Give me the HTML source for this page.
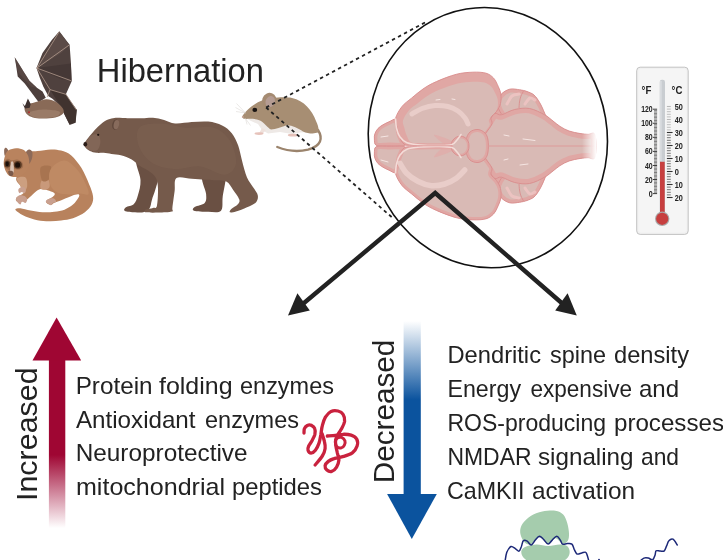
<!DOCTYPE html>
<html>
<head>
<meta charset="utf-8">
<title>Hibernation</title>
<style>
html,body{margin:0;padding:0;background:#fff;}
body{width:723px;height:560px;overflow:hidden;font-family:"Liberation Sans",sans-serif;}
svg{display:block;position:absolute;left:0;top:0;}
text{font-family:"Liberation Sans",sans-serif;fill:#222;}
text{filter:grayscale(1);}
</style>
</head>
<body>
<svg width="723" height="560" viewBox="0 0 723 560">
<defs>
  <linearGradient id="gRed" x1="0" y1="0" x2="0" y2="1">
    <stop offset="0" stop-color="#9f0633"/>
    <stop offset="0.57" stop-color="#9f0633"/>
    <stop offset="1" stop-color="#9f0633" stop-opacity="0"/>
  </linearGradient>
  <linearGradient id="gBlue" x1="0" y1="0" x2="0" y2="1">
    <stop offset="0" stop-color="#0b539e" stop-opacity="0"/>
    <stop offset="0.45" stop-color="#0b539e"/>
    <stop offset="1" stop-color="#0b539e"/>
  </linearGradient>
  <linearGradient id="gStem" x1="0" y1="0" x2="1" y2="0">
    <stop offset="0" stop-color="#fff" stop-opacity="0"/>
    <stop offset="1" stop-color="#fff" stop-opacity="1"/>
  </linearGradient>
<clipPath id="bc1"><path d="M497.0 104.0 C496.3 100.2 498.9 97.0 501.0 94.5 C503.1 92.0 506.6 90.0 509.7 89.2 C512.8 88.4 516.8 89.4 519.7 89.8 C522.6 90.2 524.6 90.6 527.0 91.5 C529.4 92.4 531.9 93.2 534.0 95.0 C536.1 96.8 537.8 99.5 539.6 102.5 C541.4 105.5 543.5 110.3 544.6 113.1 C545.7 115.8 547.6 118.5 546.0 119.0 C544.4 119.5 539.3 117.0 535.0 116.0 C530.7 115.0 525.0 112.8 520.0 113.0 C515.0 113.2 508.8 118.5 505.0 117.0 C501.2 115.5 497.7 107.8 497.0 104.0 Z"/></clipPath>
<clipPath id="bc2"><path d="M497.0 188.0 C496.3 191.8 498.9 195.0 501.0 197.5 C503.1 200.0 506.6 202.0 509.7 202.8 C512.8 203.6 516.8 202.6 519.7 202.2 C522.6 201.8 524.6 201.4 527.0 200.5 C529.4 199.6 531.9 198.8 534.0 197.0 C536.1 195.2 537.8 192.5 539.6 189.5 C541.4 186.5 543.5 181.7 544.6 178.9 C545.7 176.2 547.6 173.5 546.0 173.0 C544.4 172.5 539.3 175.0 535.0 176.0 C530.7 177.0 525.0 179.2 520.0 179.0 C515.0 178.8 508.8 173.5 505.0 175.0 C501.2 176.5 497.7 184.2 497.0 188.0 Z"/></clipPath>
<clipPath id="bc3"><path d="M489.0 121.0 C491.1 117.9 492.7 114.5 494.8 113.5 C496.9 112.5 498.1 115.5 501.4 114.8 C504.7 114.1 510.0 110.5 514.7 109.5 C519.4 108.5 524.6 107.6 529.6 108.5 C534.6 109.4 540.7 112.7 544.6 114.8 C548.5 116.9 550.4 119.1 553.0 121.0 C555.6 122.9 557.3 124.7 560.0 126.4 C562.7 128.1 565.7 129.8 569.0 131.0 C572.3 132.2 576.8 132.9 580.0 133.5 C583.2 134.1 585.5 134.1 588.0 134.3 C590.5 134.5 593.8 131.0 595.0 134.8 C596.2 138.6 596.2 153.4 595.0 157.2 C593.8 161.0 590.5 157.5 588.0 157.7 C585.5 157.9 583.2 157.9 580.0 158.5 C576.8 159.1 572.3 159.8 569.0 161.0 C565.7 162.2 562.7 163.9 560.0 165.6 C557.3 167.3 555.6 169.1 553.0 171.0 C550.4 172.9 548.5 175.1 544.6 177.2 C540.7 179.3 534.6 182.6 529.6 183.5 C524.6 184.4 519.4 183.6 514.7 182.5 C510.0 181.4 504.7 177.9 501.4 177.2 C498.1 176.5 496.9 179.5 494.8 178.5 C492.7 177.5 491.1 174.1 489.0 171.0 C486.9 167.9 483.8 164.2 482.0 160.0 C480.2 155.8 478.0 150.7 478.0 146.0 C478.0 141.3 480.2 136.2 482.0 132.0 C483.8 127.8 486.9 124.1 489.0 121.0 Z"/></clipPath>
<clipPath id="bc4"><path d="M374.4 139.0 C374.1 137.0 374.4 135.2 375.0 133.5 C375.6 131.8 376.7 129.9 378.0 128.5 C379.3 127.0 381.2 125.9 383.0 124.8 C384.8 123.7 386.9 122.7 389.0 121.8 C391.1 120.9 394.0 118.7 395.5 119.2 C397.0 119.7 397.3 122.5 398.0 125.0 C398.7 127.5 398.8 131.2 399.5 134.0 C400.2 136.8 401.8 139.6 402.5 141.5 C403.2 143.4 406.1 144.9 404.0 145.6 C401.9 146.3 394.6 145.6 390.0 145.6 C385.4 145.6 379.1 146.5 376.5 145.4 C373.9 144.3 374.6 141.0 374.4 139.0 Z"/></clipPath>
<clipPath id="bc5"><path d="M374.4 153.0 C374.1 155.0 374.4 156.8 375.0 158.5 C375.6 160.2 376.7 162.1 378.0 163.5 C379.3 164.9 381.2 166.1 383.0 167.2 C384.8 168.3 386.9 169.3 389.0 170.2 C391.1 171.1 394.0 173.3 395.5 172.8 C397.0 172.3 397.3 169.5 398.0 167.0 C398.7 164.5 398.8 160.8 399.5 158.0 C400.2 155.2 401.8 152.4 402.5 150.5 C403.2 148.6 406.1 147.1 404.0 146.4 C401.9 145.7 394.6 146.4 390.0 146.4 C385.4 146.4 379.1 145.5 376.5 146.6 C373.9 147.7 374.6 151.0 374.4 153.0 Z"/></clipPath>
<clipPath id="bc6"><path d="M395.5 118.5 C396.3 115.1 399.3 109.9 402.0 106.5 C404.7 103.1 408.0 101.1 411.5 98.2 C415.0 95.3 418.9 91.8 423.0 89.0 C427.1 86.2 430.8 84.0 436.4 81.6 C441.9 79.1 450.2 75.9 456.3 74.3 C462.4 72.7 467.9 72.4 472.9 72.2 C477.8 72.0 482.6 72.2 486.0 73.2 C489.4 74.2 491.4 75.8 493.5 78.0 C495.6 80.2 497.1 83.9 498.3 86.6 C499.5 89.3 500.4 91.2 500.8 94.0 C501.2 96.8 501.2 100.6 500.5 103.5 C499.8 106.4 498.1 109.2 496.5 111.5 C494.9 113.8 491.8 115.5 491.0 117.5 C490.2 119.5 492.5 121.4 492.0 123.5 C491.5 125.6 489.5 127.9 488.0 130.0 C486.5 132.1 485.0 134.2 483.0 136.0 C481.0 137.8 478.5 139.5 476.0 141.0 C473.5 142.5 474.0 144.2 468.0 145.0 C462.0 145.8 448.8 145.4 440.0 145.5 C431.2 145.6 421.0 145.6 415.0 145.3 C409.0 145.1 406.6 145.6 404.0 144.0 C401.4 142.4 400.7 138.8 399.5 136.0 C398.3 133.2 397.7 129.9 397.0 127.0 C396.3 124.1 394.7 121.9 395.5 118.5 Z"/></clipPath>
<clipPath id="bc7"><path d="M395.5 173.5 C396.3 176.9 399.3 182.1 402.0 185.5 C404.7 188.9 408.0 190.9 411.5 193.8 C415.0 196.7 418.9 200.2 423.0 203.0 C427.1 205.8 430.8 208.0 436.4 210.4 C441.9 212.8 450.2 216.1 456.3 217.7 C462.4 219.3 467.9 219.6 472.9 219.8 C477.8 220.0 482.6 219.8 486.0 218.8 C489.4 217.8 491.4 216.2 493.5 214.0 C495.6 211.8 497.1 208.1 498.3 205.4 C499.5 202.7 500.4 200.8 500.8 198.0 C501.2 195.2 501.2 191.4 500.5 188.5 C499.8 185.6 498.1 182.8 496.5 180.5 C494.9 178.2 491.8 176.5 491.0 174.5 C490.2 172.5 492.5 170.6 492.0 168.5 C491.5 166.4 489.5 164.1 488.0 162.0 C486.5 159.9 485.0 157.8 483.0 156.0 C481.0 154.2 478.5 152.5 476.0 151.0 C473.5 149.5 474.0 147.8 468.0 147.0 C462.0 146.2 448.8 146.6 440.0 146.5 C431.2 146.4 421.0 146.4 415.0 146.7 C409.0 146.9 406.6 146.4 404.0 148.0 C401.4 149.6 400.7 153.2 399.5 156.0 C398.3 158.8 397.7 162.1 397.0 165.0 C396.3 167.9 394.7 170.1 395.5 173.5 Z"/></clipPath>
<clipPath id="bc8"><path d="M470.0 132.0 C472.0 130.2 475.5 129.3 478.0 129.5 C480.5 129.7 483.3 131.2 485.0 133.0 C486.7 134.8 487.5 136.8 488.0 140.0 C488.5 143.2 488.5 148.8 488.0 152.0 C487.5 155.2 486.7 157.2 485.0 159.0 C483.3 160.8 480.5 162.3 478.0 162.5 C475.5 162.7 472.0 161.8 470.0 160.0 C468.0 158.2 466.7 155.3 466.0 152.0 C465.3 148.7 465.3 143.3 466.0 140.0 C466.7 136.7 468.0 133.8 470.0 132.0 Z"/></clipPath>
<clipPath id="bc9"><path d="M453.0 140.0 C454.2 138.4 456.2 137.0 458.0 136.5 C459.8 136.0 462.3 136.2 464.0 137.0 C465.7 137.8 467.2 139.5 468.0 141.0 C468.8 142.5 469.0 144.3 469.0 146.0 C469.0 147.7 468.8 149.5 468.0 151.0 C467.2 152.5 465.7 154.2 464.0 155.0 C462.3 155.8 459.8 156.0 458.0 155.5 C456.2 155.0 454.2 153.6 453.0 152.0 C451.8 150.4 451.0 148.0 451.0 146.0 C451.0 144.0 451.8 141.6 453.0 140.0 Z"/></clipPath>

</defs>

<!-- ===== TITLE ===== -->
<text id="t-title" x="96.8" y="82.3" font-size="33" textLength="167.2" lengthAdjust="spacingAndGlyphs">Hibernation</text>

<!-- ===== BAT ===== -->
<g id="bat">
<path d="M14.7 57.2 L19.1 64.3 L23.7 71.8 L29.4 80.8 L36.9 87.8 L42.5 91.5 L45.8 97.7 L38.7 102.2 L33.1 94.7 L24.7 83.5 L17.7 76.5 L16.2 66.2 Z" fill="#4d3f3c"/>
<path d="M14.7 57.2 L19.1 64.3 L23.7 71.8 L29.4 80.8 L36.9 87.8 L31.2 86.8 L23.7 78.4 L17.7 71.8 Z" fill="#5f4c47" opacity="0.6"/>
<path d="M59.3 31.2 L69.6 44.7 L70.9 62.5 L71.7 81.2 L65.9 94.3 L70.6 101.8 L76.8 109.7 L75.6 122.8 L69.6 125.0 L64.6 114.9 L60.8 107.1 L52.8 99.0 L48.5 96.2 L43.4 86.8 L39.7 77.5 L36.5 68.1 L42.5 53.1 L51.8 40.0 Z" fill="#4f413e"/>
<path d="M36.9 68.1 L59.3 32.1 L69.3 44.9 L61.2 53.1 Z" fill="#5b4b47"/>
<path d="M36.9 68.1 L70.9 63.4 L71.5 80.8 L61.2 79.3 Z" fill="#453836"/>
<path d="M50.0 89.6 L65.9 94.3 L76.6 109.7 L75.4 122.4 L69.6 124.3 L61.2 107.4 Z" fill="#40332f"/>
<line x1="36.9" y1="68.1" x2="59.3" y2="31.7" stroke="#b39a8d" stroke-width="0.8"/>
<line x1="36.9" y1="68.1" x2="69.4" y2="44.9" stroke="#b39a8d" stroke-width="0.8"/>
<line x1="36.9" y1="68.1" x2="71.3" y2="80.8" stroke="#b39a8d" stroke-width="0.8"/>
<line x1="36.9" y1="68.1" x2="50.0" y2="89.6" stroke="#b39a8d" stroke-width="0.8"/>
<line x1="50.0" y1="89.6" x2="65.9" y2="94.3" stroke="#b39a8d" stroke-width="0.8"/>
<line x1="50.0" y1="89.6" x2="47.2" y2="97.1" stroke="#b39a8d" stroke-width="0.8"/>
<line x1="65.9" y1="94.3" x2="76.2" y2="109.7" stroke="#b39a8d" stroke-width="0.8"/>
<path d="M24.7 110.2 C24.3 108.6 24.9 106.3 26.0 105.2 C27.1 104.0 29.3 103.9 31.2 103.3 C33.2 102.7 35.2 102.1 37.8 101.4 C40.3 100.8 43.6 99.1 46.6 99.2 C49.6 99.3 53.0 100.4 55.6 101.8 C58.2 103.2 60.8 105.6 62.1 107.4 C63.5 109.2 64.2 111.1 63.5 112.7 C62.7 114.2 60.6 115.8 57.8 116.8 C55.0 117.8 50.4 118.3 46.6 118.5 C42.8 118.7 38.0 118.5 35.0 117.9 C31.9 117.4 29.9 116.6 28.2 115.3 C26.5 114.0 25.0 111.9 24.7 110.2 Z" fill="#896a57"/>
<path d="M28.4 113.1 C28.7 111.9 33.6 110.8 36.9 110.2 C40.1 109.7 44.3 109.5 48.1 109.7 C51.8 109.9 57.8 110.5 59.3 111.6 C60.9 112.6 59.6 115.0 57.5 116.1 C55.3 117.1 50.3 117.7 46.6 117.9 C42.8 118.1 38.0 118.2 35.0 117.4 C31.9 116.6 28.1 114.2 28.4 113.1 Z" fill="#9a7b67"/>
<path d="M22.4 103.3 L24.9 105.9 L27.9 98.6 L30.7 104.1 L29.7 107.8 L24.9 108.6 Z" fill="#3d302e"/>
<circle cx="29" cy="112.3" r="1" fill="#b03030"/>

</g>

<!-- ===== LEMUR ===== -->
<g id="lemur">
<path d="M25.5 153.7 C28.3 150.7 33.1 151.8 37.4 151.1 C41.6 150.4 47.0 149.5 50.9 149.4 C54.9 149.3 57.7 149.6 61.1 150.6 C64.5 151.6 67.9 152.5 71.3 155.4 C74.7 158.3 78.5 163.3 81.5 168.1 C84.5 172.9 87.2 179.6 89.1 184.2 C91.1 188.9 92.6 192.7 93.0 196.1 C93.5 199.5 93.0 201.9 91.7 204.6 C90.3 207.3 88.0 210.0 84.9 212.2 C81.8 214.5 77.0 216.8 73.0 218.2 C69.0 219.6 65.1 219.9 61.1 220.4 C57.2 220.9 53.2 221.3 49.2 221.2 C45.3 221.2 41.3 221.0 37.4 220.2 C33.4 219.4 28.9 218.0 25.5 216.5 C22.1 215.0 18.6 212.6 17.0 211.4 C15.3 210.2 15.1 209.5 15.6 209.0 C16.2 208.5 17.9 208.1 20.4 208.3 C22.9 208.6 26.9 209.9 30.6 210.6 C34.2 211.2 38.5 212.1 42.4 212.2 C46.4 212.4 50.7 212.2 54.3 211.7 C58.0 211.3 61.4 210.9 64.5 209.7 C67.6 208.5 70.7 206.6 73.0 204.6 C75.3 202.6 77.4 199.5 78.4 197.8 C79.4 196.1 79.6 194.9 78.9 194.4 C78.3 193.9 76.5 194.3 74.7 194.8 C72.9 195.3 70.5 196.5 67.9 197.5 C65.4 198.5 61.7 200.0 59.4 200.9 C57.1 201.8 55.4 202.2 54.0 202.9 C52.6 203.6 52.2 204.9 50.9 204.9 C49.7 204.9 47.4 203.7 46.7 202.9 C46.0 202.1 45.7 201.4 46.7 200.4 C47.7 199.4 51.3 198.1 52.6 197.0 C54.0 195.8 55.2 194.6 54.7 193.6 C54.1 192.5 51.6 191.5 49.2 190.7 C46.9 189.9 43.2 188.7 40.7 189.0 C38.3 189.3 36.9 190.8 34.8 192.4 C32.7 194.0 30.1 197.1 28.0 198.7 C25.9 200.2 23.9 201.1 22.1 201.6 C20.2 202.0 18.0 202.1 17.0 201.6 C16.0 201.0 15.4 199.3 16.1 198.2 C16.8 197.0 19.9 195.8 21.2 194.8 C22.5 193.7 23.9 193.3 23.8 191.9 C23.6 190.4 21.6 188.1 20.4 185.9 C19.1 183.8 16.1 182.0 16.1 179.1 C16.1 176.3 18.8 173.2 20.4 169.0 C21.9 164.7 22.6 156.6 25.5 153.7 Z" fill="#b8825d"/>
<path d="M17.0 178.3 C17.8 176.9 23.8 176.2 25.5 177.4 C27.2 178.7 27.4 183.5 27.2 185.9 C26.9 188.3 24.9 191.9 23.8 191.9 C22.6 191.9 21.5 188.2 20.4 185.9 C19.2 183.7 16.1 179.7 17.0 178.3 Z" fill="#cc9f80"/>
<path d="M41.6 180.8 C42.9 179.4 47.1 179.0 48.4 180.0 C49.7 181.0 50.0 185.2 49.6 186.8 C49.2 188.4 47.3 189.4 45.8 189.7 C44.4 190.0 41.5 190.0 40.7 188.5 C40.0 187.0 40.3 182.3 41.6 180.8 Z" fill="#c9997a"/>
<path d="M40.7 167.3 C42.2 164.9 49.5 165.3 50.9 166.4 C52.3 167.5 49.7 171.8 49.2 174.0 C48.8 176.3 49.6 178.9 48.4 180.0 C47.2 181.1 43.4 182.6 42.1 180.5 C40.8 178.4 39.3 169.6 40.7 167.3 Z" fill="#a87450"/>
<path d="M50.9 169.0 C53.3 165.0 60.0 160.2 64.5 160.5 C69.0 160.7 74.4 166.4 78.1 170.7 C81.8 174.9 84.9 182.0 86.6 185.9 C88.3 189.9 89.4 193.1 88.3 194.4 C87.2 195.7 82.6 193.6 79.8 193.6 C77.0 193.6 75.0 194.6 71.3 194.4 C67.6 194.3 61.3 194.4 57.7 192.7 C54.2 191.0 51.2 188.2 50.1 184.2 C49.0 180.3 48.5 172.9 50.9 169.0 Z" fill="#bf8a64"/>
<path d="M25.5 152.8 C26.0 151.0 28.1 149.6 29.2 149.4 C30.3 149.3 31.8 150.4 32.3 152.0 C32.7 153.5 32.5 156.8 31.9 158.8 C31.4 160.7 29.9 163.6 28.9 163.9 C27.8 164.1 26.4 162.3 25.8 160.5 C25.2 158.6 24.9 154.7 25.5 152.8 Z" fill="#8d6a58"/>
<path d="M4.2 149.4 C4.5 148.2 5.3 147.6 5.9 147.7 C6.6 147.9 8.0 149.1 8.1 150.3 C8.3 151.4 7.4 153.7 6.8 154.5 C6.2 155.4 5.0 156.2 4.6 155.4 C4.2 154.5 4.0 150.7 4.2 149.4 Z" fill="#8d6a58"/>
<path d="M5.1 155.4 C5.9 153.1 6.6 151.5 8.5 150.3 C10.3 149.1 13.6 148.3 16.1 148.2 C18.7 148.2 21.8 148.8 23.8 149.9 C25.7 151.1 27.1 153.2 28.0 155.4 C28.9 157.6 29.3 160.6 29.2 163.0 C29.1 165.4 28.4 167.8 27.2 169.8 C26.0 171.8 24.1 173.7 22.1 174.9 C20.1 176.1 17.4 177.0 15.3 177.1 C13.2 177.2 10.9 176.7 9.3 175.7 C7.8 174.8 6.9 173.5 5.9 171.5 C5.0 169.5 3.9 166.6 3.7 163.9 C3.6 161.2 4.3 157.6 5.1 155.4 Z" fill="#b9835e"/>
<path d="M4.2 162.2 C4.7 160.7 6.4 159.1 7.6 158.8 C8.9 158.5 10.3 160.3 11.9 160.5 C13.4 160.6 15.3 159.3 17.0 159.6 C18.7 159.9 21.1 160.9 22.1 162.2 C23.1 163.4 23.5 166.0 22.9 167.3 C22.4 168.5 20.1 169.5 18.7 169.8 C17.3 170.1 15.6 168.7 14.4 169.0 C13.3 169.2 12.9 171.4 11.9 171.5 C10.9 171.6 9.7 170.5 8.5 169.8 C7.3 169.1 5.5 168.5 4.8 167.3 C4.0 166.0 3.8 163.6 4.2 162.2 Z" fill="#a06f4e"/>
<path d="M11.0 162.2 C11.5 161.0 12.8 161.0 13.2 162.2 C13.7 163.3 13.9 167.1 13.9 169.0 C13.9 170.8 13.8 172.5 13.2 173.2 C12.7 173.9 11.0 173.9 10.5 173.2 C10.0 172.5 10.1 170.8 10.2 169.0 C10.3 167.1 10.5 163.3 11.0 162.2 Z" fill="#d9c3b4"/>
<ellipse cx="7.4" cy="163.9" rx="2.9" ry="3.5" fill="#5a3a24"/>
<ellipse cx="17.8" cy="164.8" rx="4.0" ry="3.9" fill="#5a3a24"/>
<ellipse cx="7.2" cy="163.9" rx="1.7" ry="2.4" fill="#1c100a"/>
<ellipse cx="17.6" cy="164.9" rx="2.5" ry="2.7" fill="#1c100a"/>
<path d="M8.1 171.5 C8.3 170.7 9.7 170.6 10.5 170.7 C11.4 170.7 12.9 171.2 13.2 172.0 C13.6 172.8 13.3 174.8 12.7 175.4 C12.2 176.0 10.6 176.4 9.8 175.7 C9.1 175.1 8.0 172.4 8.1 171.5 Z" fill="#7b5a4b"/>
<path d="M16.1 198.2 C16.6 197.1 18.1 195.6 19.5 195.3 C20.9 194.9 23.3 195.4 24.6 196.1 C25.9 196.8 27.0 198.4 27.2 199.5 C27.3 200.6 26.3 202.6 25.5 202.9 C24.6 203.3 22.9 201.3 22.1 201.6 C21.2 201.8 21.2 204.6 20.4 204.6 C19.5 204.6 17.7 202.6 17.0 201.6 C16.3 200.5 15.7 199.2 16.1 198.2 Z" fill="#c9a08f"/>
<path d="M45.8 201.2 C46.1 200.4 47.8 199.1 49.2 198.7 C50.7 198.2 53.2 198.1 54.3 198.7 C55.5 199.2 56.3 201.4 56.0 202.1 C55.8 202.8 53.8 202.4 53.0 202.9 C52.1 203.4 51.8 205.2 50.9 205.3 C50.0 205.3 48.4 203.9 47.5 203.3 C46.7 202.6 45.6 202.0 45.8 201.2 Z" fill="#c9a08f"/>
<path d="M18.3 189.7 C18.6 188.7 19.8 187.7 20.7 187.3 C21.6 186.8 22.9 186.6 23.8 187.0 C24.6 187.3 25.6 188.7 25.8 189.7 C26.0 190.7 25.5 192.7 24.8 193.1 C24.1 193.5 22.6 192.0 21.7 192.0 C20.8 192.0 19.9 193.5 19.4 193.1 C18.8 192.7 18.1 190.6 18.3 189.7 Z" fill="#c9a08f"/>

</g>

<!-- ===== BEAR ===== -->
<g id="bear">
<path d="M136.4 159.5 C134.3 162.8 140.3 174.0 140.5 179.9 C140.8 185.8 139.2 190.9 138.0 194.9 C136.9 198.9 135.9 201.9 133.9 204.0 C131.9 206.1 127.4 206.2 125.9 207.3 C124.4 208.5 123.3 210.1 124.8 210.9 C126.3 211.8 131.8 212.1 135.0 212.3 C138.2 212.5 141.7 212.8 144.1 212.0 C146.6 211.3 148.4 209.9 149.7 207.9 C151.0 205.9 150.9 203.0 151.9 199.9 C152.8 196.7 154.4 193.2 155.5 189.1 C156.6 184.9 158.9 179.8 158.5 175.0 C158.1 170.1 156.7 162.6 153.0 160.0 C149.3 157.4 138.5 156.2 136.4 159.5 Z" fill="#6a5043"/>
<path d="M202.8 174.7 C199.6 178.4 205.8 189.3 206.1 194.1 C206.4 198.8 206.6 200.8 204.7 202.9 C202.9 205.0 196.8 205.5 195.0 206.8 C193.2 208.1 191.7 209.8 193.9 210.7 C196.1 211.5 203.8 211.8 208.3 211.8 C212.8 211.8 218.6 213.1 221.0 210.7 C223.4 208.2 222.0 201.9 222.7 196.8 C223.4 191.7 225.1 184.4 225.5 180.2 C225.8 176.1 228.7 172.8 224.9 171.9 C221.1 171.0 205.9 171.0 202.8 174.7 Z" fill="#6a5043"/>
<path d="M84.4 144.3 C84.4 143.1 84.8 142.4 86.0 140.7 C87.2 138.9 89.6 136.0 91.6 133.7 C93.5 131.5 95.5 129.2 97.7 127.1 C99.8 125.0 102.3 122.7 104.6 121.3 C106.9 119.9 109.4 119.1 111.5 118.5 C113.6 118.0 115.2 117.9 117.0 117.8 C118.9 117.8 120.5 118.0 122.6 118.1 C124.6 118.2 126.2 118.2 129.5 118.3 C132.7 118.3 138.0 118.3 141.9 118.3 C145.8 118.2 149.3 117.4 153.0 117.7 C156.7 118.0 160.4 118.9 164.1 119.9 C167.7 120.9 170.5 123.1 175.1 123.5 C179.7 123.9 186.2 122.5 191.7 122.1 C197.2 121.8 203.2 121.0 208.3 121.6 C213.4 122.1 218.2 123.5 222.1 125.4 C226.1 127.4 229.2 129.8 231.8 133.2 C234.5 136.6 236.5 141.0 238.2 145.6 C239.9 150.3 240.6 155.6 242.1 160.9 C243.5 166.2 245.1 172.8 247.0 177.5 C249.0 182.1 252.2 185.5 254.0 188.5 C255.8 191.5 257.5 193.1 257.8 195.4 C258.2 197.7 257.7 200.4 255.9 202.4 C254.1 204.3 250.4 205.8 247.0 207.3 C243.7 208.9 238.8 210.7 236.0 211.5 C233.1 212.3 230.7 212.7 229.9 212.3 C229.1 211.9 230.0 210.3 231.3 209.0 C232.6 207.7 236.3 206.1 237.6 204.6 C239.0 203.0 240.0 202.0 239.3 199.6 C238.6 197.1 235.4 192.9 233.2 189.9 C231.0 186.9 229.5 183.2 226.3 181.6 C223.1 180.0 217.4 180.5 213.8 180.2 C210.3 179.9 208.7 179.9 205.0 179.7 C201.3 179.4 196.5 179.1 191.7 178.8 C187.0 178.6 179.4 175.9 176.5 178.0 C173.6 180.1 175.3 186.3 174.6 191.3 C173.9 196.3 172.8 204.5 172.4 207.9 C171.9 211.2 174.1 210.7 171.8 211.5 C169.5 212.3 162.9 212.4 158.5 212.6 C154.2 212.7 147.9 212.8 145.8 212.3 C143.7 211.8 144.6 210.3 145.8 209.5 C147.0 208.8 151.1 208.5 153.0 207.9 C154.8 207.3 156.0 209.1 156.9 205.9 C157.7 202.8 158.1 193.6 158.0 189.1 C157.9 184.6 157.5 181.6 156.3 178.8 C155.1 176.1 153.5 174.6 150.8 172.5 C148.0 170.3 142.9 168.0 139.7 165.8 C136.5 163.7 134.8 161.2 131.7 159.5 C128.6 157.7 124.3 156.2 120.9 155.3 C117.5 154.4 114.4 154.4 111.5 153.9 C108.6 153.5 106.3 153.0 103.7 152.8 C101.2 152.7 98.6 153.2 96.3 152.8 C94.0 152.5 91.7 151.7 89.9 150.9 C88.2 150.1 86.7 149.0 85.8 147.9 C84.8 146.7 84.3 145.5 84.4 144.3 Z" fill="#755a4b"/>
<path d="M139.2 127.7 C142.8 123.7 153.4 123.5 161.3 123.5 C169.1 123.5 177.4 127.0 186.2 127.7 C194.9 128.4 206.5 125.4 213.8 127.7 C221.2 130.0 226.8 135.5 230.4 141.5 C234.1 147.5 236.9 158.1 236.0 163.6 C235.1 169.2 230.9 174.2 224.9 174.7 C218.9 175.1 208.3 167.3 200.0 166.4 C191.7 165.5 183.0 169.6 175.1 169.2 C167.3 168.7 159.0 167.3 153.0 163.6 C147.0 159.9 141.5 153.0 139.2 147.0 C136.9 141.0 135.5 131.6 139.2 127.7 Z" fill="#7d6152" opacity="0.5"/>
<path d="M85.2 144.3 C86.0 142.3 88.7 137.6 90.7 136.0 C92.8 134.3 96.0 133.7 97.7 134.6 C99.3 135.5 100.4 139.0 100.4 141.5 C100.4 144.0 99.3 148.3 97.7 149.8 C96.0 151.3 92.7 151.0 90.7 150.6 C88.8 150.3 87.0 148.6 86.0 147.6 C85.1 146.5 84.4 146.2 85.2 144.3 Z" fill="#826657"/>
<ellipse cx="85.3" cy="144.3" rx="1.9" ry="2.3" fill="#2a1c18"/>
<circle cx="98.2" cy="134.8" r="1.1" fill="#1e1410"/>
<ellipse cx="115.6" cy="124.6" rx="3.4" ry="5.2" fill="#5f473b" transform="rotate(12 115.6 124.6)"/>
<ellipse cx="116.4" cy="124.6" rx="2.7" ry="4.7" fill="#876b5c" transform="rotate(12 116.4 124.6)"/>

</g>

<!-- ===== MOUSE ===== -->
<g id="mouse">
<path d="M318 130 C323 138 321.5 146 308 149.6 C298 152 286 150.5 277.3 147" fill="none" stroke="#9b846d" stroke-width="2.4" stroke-linecap="round"/>
<path d="M245 117.5 L258 118 L266 121 L300 124 L316 128 L317 131.5 L300 132.5 L292 134 L280 132 L268 133.5 L262 130 L258 124 L250 120.5 Z" fill="#eee9e6"/>
<path d="M262 128 L259.5 132.5 L256 133.8 L262 134.2 L266 130 Z" fill="#efe2dd"/>
<ellipse cx="259" cy="133.6" rx="4.5" ry="1.3" fill="#e6c2ba"/>
<ellipse cx="293" cy="135.2" rx="5.2" ry="1.4" fill="#e6c2ba"/>
<path d="M242 116.8 C245 111 253 104 262 100.5 C270 97.5 284 96.6 292 97.9 C304 100.5 312 110 316 121 C318.4 126 319.2 130 318 132.6 C314 134 308 133.6 303 131.4 C298 128.6 292 125 286 125.4 C281 127 276 129 271 129.5 C267 127.5 265 123 260 120.5 C254 118 248 119.2 243.5 118.8 Z" fill="#a78e73"/>
<ellipse cx="269.3" cy="100.6" rx="7.2" ry="7.8" fill="#a58b72" transform="rotate(20 269.3 100.6)"/>
<ellipse cx="270.2" cy="101.6" rx="4.6" ry="5.8" fill="#b59c93" transform="rotate(20 270.2 101.6)"/>
<ellipse cx="254.8" cy="109.9" rx="2.4" ry="2.1" fill="#191412"/>
<circle cx="242.8" cy="117" r="1" fill="#c9a79a"/>
<line x1="245.5" y1="113.0" x2="236.5" y2="103.5" stroke="#d6d2ce" stroke-width="0.5"/>
<line x1="245.5" y1="113.0" x2="235.5" y2="107.5" stroke="#d6d2ce" stroke-width="0.5"/>
<line x1="245.5" y1="113.0" x2="236.0" y2="111.5" stroke="#d6d2ce" stroke-width="0.5"/>
<line x1="245.5" y1="118.5" x2="247.0" y2="124.5" stroke="#d6d2ce" stroke-width="0.5"/>
<line x1="245.5" y1="118.5" x2="250.5" y2="125.5" stroke="#d6d2ce" stroke-width="0.5"/>

</g>

<!-- dotted lines -->
<line x1="266.1" y1="107.5" x2="425" y2="22.5" stroke="#222" stroke-width="1.8" stroke-dasharray="3.4 3.4"/>
<line x1="266.1" y1="107.5" x2="394" y2="219.1" stroke="#222" stroke-width="1.8" stroke-dasharray="3.4 3.4"/>

<!-- ===== BRAIN ===== -->
<g id="brain">
<path d="M486.0 100.0 C488.3 96.0 496.3 95.3 500.0 96.0 C503.7 96.7 507.0 100.0 508.0 104.0 C509.0 108.0 508.3 116.3 506.0 120.0 C503.7 123.7 497.3 126.0 494.0 126.0 C490.7 126.0 487.3 124.3 486.0 120.0 C484.7 115.7 483.7 104.0 486.0 100.0 Z" fill="#e0a7a4"/>
<path d="M486.0 192.0 C488.3 196.0 496.3 196.7 500.0 196.0 C503.7 195.3 507.0 192.0 508.0 188.0 C509.0 184.0 508.3 175.7 506.0 172.0 C503.7 168.3 497.3 166.0 494.0 166.0 C490.7 166.0 487.3 167.7 486.0 172.0 C484.7 176.3 483.7 188.0 486.0 192.0 Z" fill="#e0a7a4"/>
<path d="M497.0 104.0 C496.3 100.2 498.9 97.0 501.0 94.5 C503.1 92.0 506.6 90.0 509.7 89.2 C512.8 88.4 516.8 89.4 519.7 89.8 C522.6 90.2 524.6 90.6 527.0 91.5 C529.4 92.4 531.9 93.2 534.0 95.0 C536.1 96.8 537.8 99.5 539.6 102.5 C541.4 105.5 543.5 110.3 544.6 113.1 C545.7 115.8 547.6 118.5 546.0 119.0 C544.4 119.5 539.3 117.0 535.0 116.0 C530.7 115.0 525.0 112.8 520.0 113.0 C515.0 113.2 508.8 118.5 505.0 117.0 C501.2 115.5 497.7 107.8 497.0 104.0 Z" fill="#d9bab5"/>
<path d="M497.0 104.0 C496.3 100.2 498.9 97.0 501.0 94.5 C503.1 92.0 506.6 90.0 509.7 89.2 C512.8 88.4 516.8 89.4 519.7 89.8 C522.6 90.2 524.6 90.6 527.0 91.5 C529.4 92.4 531.9 93.2 534.0 95.0 C536.1 96.8 537.8 99.5 539.6 102.5 C541.4 105.5 543.5 110.3 544.6 113.1 C545.7 115.8 547.6 118.5 546.0 119.0 C544.4 119.5 539.3 117.0 535.0 116.0 C530.7 115.0 525.0 112.8 520.0 113.0 C515.0 113.2 508.8 118.5 505.0 117.0 C501.2 115.5 497.7 107.8 497.0 104.0 Z" fill="none" stroke="#e0a7a4" stroke-width="7" clip-path="url(#bc1)"/>
<path d="M497.0 104.0 C496.3 100.2 498.9 97.0 501.0 94.5 C503.1 92.0 506.6 90.0 509.7 89.2 C512.8 88.4 516.8 89.4 519.7 89.8 C522.6 90.2 524.6 90.6 527.0 91.5 C529.4 92.4 531.9 93.2 534.0 95.0 C536.1 96.8 537.8 99.5 539.6 102.5 C541.4 105.5 543.5 110.3 544.6 113.1 C545.7 115.8 547.6 118.5 546.0 119.0 C544.4 119.5 539.3 117.0 535.0 116.0 C530.7 115.0 525.0 112.8 520.0 113.0 C515.0 113.2 508.8 118.5 505.0 117.0 C501.2 115.5 497.7 107.8 497.0 104.0 Z" fill="none" stroke="#d98c8c" stroke-width="0.9"/>
<path d="M497.0 188.0 C496.3 191.8 498.9 195.0 501.0 197.5 C503.1 200.0 506.6 202.0 509.7 202.8 C512.8 203.6 516.8 202.6 519.7 202.2 C522.6 201.8 524.6 201.4 527.0 200.5 C529.4 199.6 531.9 198.8 534.0 197.0 C536.1 195.2 537.8 192.5 539.6 189.5 C541.4 186.5 543.5 181.7 544.6 178.9 C545.7 176.2 547.6 173.5 546.0 173.0 C544.4 172.5 539.3 175.0 535.0 176.0 C530.7 177.0 525.0 179.2 520.0 179.0 C515.0 178.8 508.8 173.5 505.0 175.0 C501.2 176.5 497.7 184.2 497.0 188.0 Z" fill="#d9bab5"/>
<path d="M497.0 188.0 C496.3 191.8 498.9 195.0 501.0 197.5 C503.1 200.0 506.6 202.0 509.7 202.8 C512.8 203.6 516.8 202.6 519.7 202.2 C522.6 201.8 524.6 201.4 527.0 200.5 C529.4 199.6 531.9 198.8 534.0 197.0 C536.1 195.2 537.8 192.5 539.6 189.5 C541.4 186.5 543.5 181.7 544.6 178.9 C545.7 176.2 547.6 173.5 546.0 173.0 C544.4 172.5 539.3 175.0 535.0 176.0 C530.7 177.0 525.0 179.2 520.0 179.0 C515.0 178.8 508.8 173.5 505.0 175.0 C501.2 176.5 497.7 184.2 497.0 188.0 Z" fill="none" stroke="#e0a7a4" stroke-width="7" clip-path="url(#bc2)"/>
<path d="M497.0 188.0 C496.3 191.8 498.9 195.0 501.0 197.5 C503.1 200.0 506.6 202.0 509.7 202.8 C512.8 203.6 516.8 202.6 519.7 202.2 C522.6 201.8 524.6 201.4 527.0 200.5 C529.4 199.6 531.9 198.8 534.0 197.0 C536.1 195.2 537.8 192.5 539.6 189.5 C541.4 186.5 543.5 181.7 544.6 178.9 C545.7 176.2 547.6 173.5 546.0 173.0 C544.4 172.5 539.3 175.0 535.0 176.0 C530.7 177.0 525.0 179.2 520.0 179.0 C515.0 178.8 508.8 173.5 505.0 175.0 C501.2 176.5 497.7 184.2 497.0 188.0 Z" fill="none" stroke="#d98c8c" stroke-width="0.9"/>
<path d="M489.0 121.0 C491.1 117.9 492.7 114.5 494.8 113.5 C496.9 112.5 498.1 115.5 501.4 114.8 C504.7 114.1 510.0 110.5 514.7 109.5 C519.4 108.5 524.6 107.6 529.6 108.5 C534.6 109.4 540.7 112.7 544.6 114.8 C548.5 116.9 550.4 119.1 553.0 121.0 C555.6 122.9 557.3 124.7 560.0 126.4 C562.7 128.1 565.7 129.8 569.0 131.0 C572.3 132.2 576.8 132.9 580.0 133.5 C583.2 134.1 585.5 134.1 588.0 134.3 C590.5 134.5 593.8 131.0 595.0 134.8 C596.2 138.6 596.2 153.4 595.0 157.2 C593.8 161.0 590.5 157.5 588.0 157.7 C585.5 157.9 583.2 157.9 580.0 158.5 C576.8 159.1 572.3 159.8 569.0 161.0 C565.7 162.2 562.7 163.9 560.0 165.6 C557.3 167.3 555.6 169.1 553.0 171.0 C550.4 172.9 548.5 175.1 544.6 177.2 C540.7 179.3 534.6 182.6 529.6 183.5 C524.6 184.4 519.4 183.6 514.7 182.5 C510.0 181.4 504.7 177.9 501.4 177.2 C498.1 176.5 496.9 179.5 494.8 178.5 C492.7 177.5 491.1 174.1 489.0 171.0 C486.9 167.9 483.8 164.2 482.0 160.0 C480.2 155.8 478.0 150.7 478.0 146.0 C478.0 141.3 480.2 136.2 482.0 132.0 C483.8 127.8 486.9 124.1 489.0 121.0 Z" fill="#d9bab5"/>
<path d="M489.0 121.0 C491.1 117.9 492.7 114.5 494.8 113.5 C496.9 112.5 498.1 115.5 501.4 114.8 C504.7 114.1 510.0 110.5 514.7 109.5 C519.4 108.5 524.6 107.6 529.6 108.5 C534.6 109.4 540.7 112.7 544.6 114.8 C548.5 116.9 550.4 119.1 553.0 121.0 C555.6 122.9 557.3 124.7 560.0 126.4 C562.7 128.1 565.7 129.8 569.0 131.0 C572.3 132.2 576.8 132.9 580.0 133.5 C583.2 134.1 585.5 134.1 588.0 134.3 C590.5 134.5 593.8 131.0 595.0 134.8 C596.2 138.6 596.2 153.4 595.0 157.2 C593.8 161.0 590.5 157.5 588.0 157.7 C585.5 157.9 583.2 157.9 580.0 158.5 C576.8 159.1 572.3 159.8 569.0 161.0 C565.7 162.2 562.7 163.9 560.0 165.6 C557.3 167.3 555.6 169.1 553.0 171.0 C550.4 172.9 548.5 175.1 544.6 177.2 C540.7 179.3 534.6 182.6 529.6 183.5 C524.6 184.4 519.4 183.6 514.7 182.5 C510.0 181.4 504.7 177.9 501.4 177.2 C498.1 176.5 496.9 179.5 494.8 178.5 C492.7 177.5 491.1 174.1 489.0 171.0 C486.9 167.9 483.8 164.2 482.0 160.0 C480.2 155.8 478.0 150.7 478.0 146.0 C478.0 141.3 480.2 136.2 482.0 132.0 C483.8 127.8 486.9 124.1 489.0 121.0 Z" fill="none" stroke="#e0a7a4" stroke-width="9.5" clip-path="url(#bc3)"/>
<path d="M489.0 121.0 C491.1 117.9 492.7 114.5 494.8 113.5 C496.9 112.5 498.1 115.5 501.4 114.8 C504.7 114.1 510.0 110.5 514.7 109.5 C519.4 108.5 524.6 107.6 529.6 108.5 C534.6 109.4 540.7 112.7 544.6 114.8 C548.5 116.9 550.4 119.1 553.0 121.0 C555.6 122.9 557.3 124.7 560.0 126.4 C562.7 128.1 565.7 129.8 569.0 131.0 C572.3 132.2 576.8 132.9 580.0 133.5 C583.2 134.1 585.5 134.1 588.0 134.3 C590.5 134.5 593.8 131.0 595.0 134.8 C596.2 138.6 596.2 153.4 595.0 157.2 C593.8 161.0 590.5 157.5 588.0 157.7 C585.5 157.9 583.2 157.9 580.0 158.5 C576.8 159.1 572.3 159.8 569.0 161.0 C565.7 162.2 562.7 163.9 560.0 165.6 C557.3 167.3 555.6 169.1 553.0 171.0 C550.4 172.9 548.5 175.1 544.6 177.2 C540.7 179.3 534.6 182.6 529.6 183.5 C524.6 184.4 519.4 183.6 514.7 182.5 C510.0 181.4 504.7 177.9 501.4 177.2 C498.1 176.5 496.9 179.5 494.8 178.5 C492.7 177.5 491.1 174.1 489.0 171.0 C486.9 167.9 483.8 164.2 482.0 160.0 C480.2 155.8 478.0 150.7 478.0 146.0 C478.0 141.3 480.2 136.2 482.0 132.0 C483.8 127.8 486.9 124.1 489.0 121.0 Z" fill="none" stroke="#d98c8c" stroke-width="0.9"/>
<path d="M374.4 139.0 C374.1 137.0 374.4 135.2 375.0 133.5 C375.6 131.8 376.7 129.9 378.0 128.5 C379.3 127.0 381.2 125.9 383.0 124.8 C384.8 123.7 386.9 122.7 389.0 121.8 C391.1 120.9 394.0 118.7 395.5 119.2 C397.0 119.7 397.3 122.5 398.0 125.0 C398.7 127.5 398.8 131.2 399.5 134.0 C400.2 136.8 401.8 139.6 402.5 141.5 C403.2 143.4 406.1 144.9 404.0 145.6 C401.9 146.3 394.6 145.6 390.0 145.6 C385.4 145.6 379.1 146.5 376.5 145.4 C373.9 144.3 374.6 141.0 374.4 139.0 Z" fill="#d9bab5"/>
<path d="M374.4 139.0 C374.1 137.0 374.4 135.2 375.0 133.5 C375.6 131.8 376.7 129.9 378.0 128.5 C379.3 127.0 381.2 125.9 383.0 124.8 C384.8 123.7 386.9 122.7 389.0 121.8 C391.1 120.9 394.0 118.7 395.5 119.2 C397.0 119.7 397.3 122.5 398.0 125.0 C398.7 127.5 398.8 131.2 399.5 134.0 C400.2 136.8 401.8 139.6 402.5 141.5 C403.2 143.4 406.1 144.9 404.0 145.6 C401.9 146.3 394.6 145.6 390.0 145.6 C385.4 145.6 379.1 146.5 376.5 145.4 C373.9 144.3 374.6 141.0 374.4 139.0 Z" fill="none" stroke="#e0a7a4" stroke-width="6" clip-path="url(#bc4)"/>
<path d="M374.4 139.0 C374.1 137.0 374.4 135.2 375.0 133.5 C375.6 131.8 376.7 129.9 378.0 128.5 C379.3 127.0 381.2 125.9 383.0 124.8 C384.8 123.7 386.9 122.7 389.0 121.8 C391.1 120.9 394.0 118.7 395.5 119.2 C397.0 119.7 397.3 122.5 398.0 125.0 C398.7 127.5 398.8 131.2 399.5 134.0 C400.2 136.8 401.8 139.6 402.5 141.5 C403.2 143.4 406.1 144.9 404.0 145.6 C401.9 146.3 394.6 145.6 390.0 145.6 C385.4 145.6 379.1 146.5 376.5 145.4 C373.9 144.3 374.6 141.0 374.4 139.0 Z" fill="none" stroke="#d98c8c" stroke-width="0.9"/>
<path d="M374.4 153.0 C374.1 155.0 374.4 156.8 375.0 158.5 C375.6 160.2 376.7 162.1 378.0 163.5 C379.3 164.9 381.2 166.1 383.0 167.2 C384.8 168.3 386.9 169.3 389.0 170.2 C391.1 171.1 394.0 173.3 395.5 172.8 C397.0 172.3 397.3 169.5 398.0 167.0 C398.7 164.5 398.8 160.8 399.5 158.0 C400.2 155.2 401.8 152.4 402.5 150.5 C403.2 148.6 406.1 147.1 404.0 146.4 C401.9 145.7 394.6 146.4 390.0 146.4 C385.4 146.4 379.1 145.5 376.5 146.6 C373.9 147.7 374.6 151.0 374.4 153.0 Z" fill="#d9bab5"/>
<path d="M374.4 153.0 C374.1 155.0 374.4 156.8 375.0 158.5 C375.6 160.2 376.7 162.1 378.0 163.5 C379.3 164.9 381.2 166.1 383.0 167.2 C384.8 168.3 386.9 169.3 389.0 170.2 C391.1 171.1 394.0 173.3 395.5 172.8 C397.0 172.3 397.3 169.5 398.0 167.0 C398.7 164.5 398.8 160.8 399.5 158.0 C400.2 155.2 401.8 152.4 402.5 150.5 C403.2 148.6 406.1 147.1 404.0 146.4 C401.9 145.7 394.6 146.4 390.0 146.4 C385.4 146.4 379.1 145.5 376.5 146.6 C373.9 147.7 374.6 151.0 374.4 153.0 Z" fill="none" stroke="#e0a7a4" stroke-width="6" clip-path="url(#bc5)"/>
<path d="M374.4 153.0 C374.1 155.0 374.4 156.8 375.0 158.5 C375.6 160.2 376.7 162.1 378.0 163.5 C379.3 164.9 381.2 166.1 383.0 167.2 C384.8 168.3 386.9 169.3 389.0 170.2 C391.1 171.1 394.0 173.3 395.5 172.8 C397.0 172.3 397.3 169.5 398.0 167.0 C398.7 164.5 398.8 160.8 399.5 158.0 C400.2 155.2 401.8 152.4 402.5 150.5 C403.2 148.6 406.1 147.1 404.0 146.4 C401.9 145.7 394.6 146.4 390.0 146.4 C385.4 146.4 379.1 145.5 376.5 146.6 C373.9 147.7 374.6 151.0 374.4 153.0 Z" fill="none" stroke="#d98c8c" stroke-width="0.9"/>
<path d="M395.5 118.5 C396.3 115.1 399.3 109.9 402.0 106.5 C404.7 103.1 408.0 101.1 411.5 98.2 C415.0 95.3 418.9 91.8 423.0 89.0 C427.1 86.2 430.8 84.0 436.4 81.6 C441.9 79.1 450.2 75.9 456.3 74.3 C462.4 72.7 467.9 72.4 472.9 72.2 C477.8 72.0 482.6 72.2 486.0 73.2 C489.4 74.2 491.4 75.8 493.5 78.0 C495.6 80.2 497.1 83.9 498.3 86.6 C499.5 89.3 500.4 91.2 500.8 94.0 C501.2 96.8 501.2 100.6 500.5 103.5 C499.8 106.4 498.1 109.2 496.5 111.5 C494.9 113.8 491.8 115.5 491.0 117.5 C490.2 119.5 492.5 121.4 492.0 123.5 C491.5 125.6 489.5 127.9 488.0 130.0 C486.5 132.1 485.0 134.2 483.0 136.0 C481.0 137.8 478.5 139.5 476.0 141.0 C473.5 142.5 474.0 144.2 468.0 145.0 C462.0 145.8 448.8 145.4 440.0 145.5 C431.2 145.6 421.0 145.6 415.0 145.3 C409.0 145.1 406.6 145.6 404.0 144.0 C401.4 142.4 400.7 138.8 399.5 136.0 C398.3 133.2 397.7 129.9 397.0 127.0 C396.3 124.1 394.7 121.9 395.5 118.5 Z" fill="#e0a7a4"/>
<g clip-path="url(#bc6)"><path d="M395.5 118.5 C396.3 115.1 399.3 109.9 402.0 106.5 C404.7 103.1 408.0 101.1 411.5 98.2 C415.0 95.3 418.9 91.8 423.0 89.0 C427.1 86.2 430.8 84.0 436.4 81.6 C441.9 79.1 450.2 75.9 456.3 74.3 C462.4 72.7 467.9 72.4 472.9 72.2 C477.8 72.0 482.6 72.2 486.0 73.2 C489.4 74.2 491.4 75.8 493.5 78.0 C495.6 80.2 497.1 83.9 498.3 86.6 C499.5 89.3 500.4 91.2 500.8 94.0 C501.2 96.8 501.2 100.6 500.5 103.5 C499.8 106.4 498.1 109.2 496.5 111.5 C494.9 113.8 491.8 115.5 491.0 117.5 C490.2 119.5 492.5 121.4 492.0 123.5 C491.5 125.6 489.5 127.9 488.0 130.0 C486.5 132.1 485.0 134.2 483.0 136.0 C481.0 137.8 478.5 139.5 476.0 141.0 C473.5 142.5 474.0 144.2 468.0 145.0 C462.0 145.8 448.8 145.4 440.0 145.5 C431.2 145.6 421.0 145.6 415.0 145.3 C409.0 145.1 406.6 145.6 404.0 144.0 C401.4 142.4 400.7 138.8 399.5 136.0 C398.3 133.2 397.7 129.9 397.0 127.0 C396.3 124.1 394.7 121.9 395.5 118.5 Z" fill="#d9bab5" transform="translate(456.8 114.8) scale(0.9 0.84) translate(-455.3 -111.6)"/></g>
<path d="M395.5 118.5 C396.3 115.1 399.3 109.9 402.0 106.5 C404.7 103.1 408.0 101.1 411.5 98.2 C415.0 95.3 418.9 91.8 423.0 89.0 C427.1 86.2 430.8 84.0 436.4 81.6 C441.9 79.1 450.2 75.9 456.3 74.3 C462.4 72.7 467.9 72.4 472.9 72.2 C477.8 72.0 482.6 72.2 486.0 73.2 C489.4 74.2 491.4 75.8 493.5 78.0 C495.6 80.2 497.1 83.9 498.3 86.6 C499.5 89.3 500.4 91.2 500.8 94.0 C501.2 96.8 501.2 100.6 500.5 103.5 C499.8 106.4 498.1 109.2 496.5 111.5 C494.9 113.8 491.8 115.5 491.0 117.5 C490.2 119.5 492.5 121.4 492.0 123.5 C491.5 125.6 489.5 127.9 488.0 130.0 C486.5 132.1 485.0 134.2 483.0 136.0 C481.0 137.8 478.5 139.5 476.0 141.0 C473.5 142.5 474.0 144.2 468.0 145.0 C462.0 145.8 448.8 145.4 440.0 145.5 C431.2 145.6 421.0 145.6 415.0 145.3 C409.0 145.1 406.6 145.6 404.0 144.0 C401.4 142.4 400.7 138.8 399.5 136.0 C398.3 133.2 397.7 129.9 397.0 127.0 C396.3 124.1 394.7 121.9 395.5 118.5 Z" fill="none" stroke="#d98c8c" stroke-width="0.9"/>
<path d="M395.5 173.5 C396.3 176.9 399.3 182.1 402.0 185.5 C404.7 188.9 408.0 190.9 411.5 193.8 C415.0 196.7 418.9 200.2 423.0 203.0 C427.1 205.8 430.8 208.0 436.4 210.4 C441.9 212.8 450.2 216.1 456.3 217.7 C462.4 219.3 467.9 219.6 472.9 219.8 C477.8 220.0 482.6 219.8 486.0 218.8 C489.4 217.8 491.4 216.2 493.5 214.0 C495.6 211.8 497.1 208.1 498.3 205.4 C499.5 202.7 500.4 200.8 500.8 198.0 C501.2 195.2 501.2 191.4 500.5 188.5 C499.8 185.6 498.1 182.8 496.5 180.5 C494.9 178.2 491.8 176.5 491.0 174.5 C490.2 172.5 492.5 170.6 492.0 168.5 C491.5 166.4 489.5 164.1 488.0 162.0 C486.5 159.9 485.0 157.8 483.0 156.0 C481.0 154.2 478.5 152.5 476.0 151.0 C473.5 149.5 474.0 147.8 468.0 147.0 C462.0 146.2 448.8 146.6 440.0 146.5 C431.2 146.4 421.0 146.4 415.0 146.7 C409.0 146.9 406.6 146.4 404.0 148.0 C401.4 149.6 400.7 153.2 399.5 156.0 C398.3 158.8 397.7 162.1 397.0 165.0 C396.3 167.9 394.7 170.1 395.5 173.5 Z" fill="#d9bab5"/>
<path d="M395.5 173.5 C396.3 176.9 399.3 182.1 402.0 185.5 C404.7 188.9 408.0 190.9 411.5 193.8 C415.0 196.7 418.9 200.2 423.0 203.0 C427.1 205.8 430.8 208.0 436.4 210.4 C441.9 212.8 450.2 216.1 456.3 217.7 C462.4 219.3 467.9 219.6 472.9 219.8 C477.8 220.0 482.6 219.8 486.0 218.8 C489.4 217.8 491.4 216.2 493.5 214.0 C495.6 211.8 497.1 208.1 498.3 205.4 C499.5 202.7 500.4 200.8 500.8 198.0 C501.2 195.2 501.2 191.4 500.5 188.5 C499.8 185.6 498.1 182.8 496.5 180.5 C494.9 178.2 491.8 176.5 491.0 174.5 C490.2 172.5 492.5 170.6 492.0 168.5 C491.5 166.4 489.5 164.1 488.0 162.0 C486.5 159.9 485.0 157.8 483.0 156.0 C481.0 154.2 478.5 152.5 476.0 151.0 C473.5 149.5 474.0 147.8 468.0 147.0 C462.0 146.2 448.8 146.6 440.0 146.5 C431.2 146.4 421.0 146.4 415.0 146.7 C409.0 146.9 406.6 146.4 404.0 148.0 C401.4 149.6 400.7 153.2 399.5 156.0 C398.3 158.8 397.7 162.1 397.0 165.0 C396.3 167.9 394.7 170.1 395.5 173.5 Z" fill="none" stroke="#e0a7a4" stroke-width="5.5" clip-path="url(#bc7)"/>
<path d="M395.5 173.5 C396.3 176.9 399.3 182.1 402.0 185.5 C404.7 188.9 408.0 190.9 411.5 193.8 C415.0 196.7 418.9 200.2 423.0 203.0 C427.1 205.8 430.8 208.0 436.4 210.4 C441.9 212.8 450.2 216.1 456.3 217.7 C462.4 219.3 467.9 219.6 472.9 219.8 C477.8 220.0 482.6 219.8 486.0 218.8 C489.4 217.8 491.4 216.2 493.5 214.0 C495.6 211.8 497.1 208.1 498.3 205.4 C499.5 202.7 500.4 200.8 500.8 198.0 C501.2 195.2 501.2 191.4 500.5 188.5 C499.8 185.6 498.1 182.8 496.5 180.5 C494.9 178.2 491.8 176.5 491.0 174.5 C490.2 172.5 492.5 170.6 492.0 168.5 C491.5 166.4 489.5 164.1 488.0 162.0 C486.5 159.9 485.0 157.8 483.0 156.0 C481.0 154.2 478.5 152.5 476.0 151.0 C473.5 149.5 474.0 147.8 468.0 147.0 C462.0 146.2 448.8 146.6 440.0 146.5 C431.2 146.4 421.0 146.4 415.0 146.7 C409.0 146.9 406.6 146.4 404.0 148.0 C401.4 149.6 400.7 153.2 399.5 156.0 C398.3 158.8 397.7 162.1 397.0 165.0 C396.3 167.9 394.7 170.1 395.5 173.5 Z" fill="none" stroke="#d98c8c" stroke-width="0.9"/>
<path d="M507.0 104.0 C507.8 102.7 510.0 97.7 512.0 96.0 C514.0 94.3 517.8 94.3 519.0 94.0" fill="none" stroke="#f0c6c4" stroke-width="3" stroke-linecap="round" opacity="0.8"/>
<path d="M525.0 104.0 C525.8 103.0 528.3 98.7 530.0 98.0 C531.7 97.3 534.2 99.7 535.0 100.0" fill="none" stroke="#f0c6c4" stroke-width="3" stroke-linecap="round" opacity="0.8"/>
<path d="M507.0 188.0 C507.8 189.3 510.0 194.3 512.0 196.0 C514.0 197.7 517.8 197.7 519.0 198.0" fill="none" stroke="#f0c6c4" stroke-width="3" stroke-linecap="round" opacity="0.8"/>
<path d="M525.0 188.0 C525.8 189.0 528.3 193.3 530.0 194.0 C531.7 194.7 534.2 192.3 535.0 192.0" fill="none" stroke="#f0c6c4" stroke-width="3" stroke-linecap="round" opacity="0.8"/>
<path d="M523.5 91.0 C523.1 91.8 521.7 94.2 521.0 96.0 C520.3 97.8 519.8 100.0 519.5 102.0 C519.2 104.0 519.1 107.0 519.0 108.0" fill="none" stroke="#d98c8c" stroke-width="0.9"/>
<path d="M523.5 201.0 C523.1 200.2 521.7 197.8 521.0 196.0 C520.3 194.2 519.8 192.0 519.5 190.0 C519.2 188.0 519.1 185.0 519.0 184.0" fill="none" stroke="#d98c8c" stroke-width="0.9"/>
<path d="M412.0 114.0 C413.7 113.1 418.2 109.9 422.0 108.5 C425.8 107.1 430.7 105.8 435.0 105.5 C439.3 105.2 444.2 105.6 448.0 106.5 C451.8 107.4 455.2 109.1 458.0 111.0 C460.8 112.9 463.3 115.8 465.0 118.0 C466.7 120.2 467.5 123.0 468.0 124.0" fill="none" stroke="#e9cdc9" stroke-width="5" stroke-linecap="round"/>
<path d="M400.0 163.3 C401.1 165.0 403.6 170.2 406.6 173.2 C409.6 176.2 414.1 179.4 418.2 181.5 C422.3 183.6 427.1 185.3 431.5 185.7 C435.9 186.1 440.7 185.2 444.8 184.0 C448.9 182.8 453.1 180.5 456.4 178.2 C459.7 175.9 463.3 171.4 464.7 170.0" fill="none" stroke="#e9cdc9" stroke-width="5.5" stroke-linecap="round"/>
<path d="M434.0 135.0 C434.3 134.3 439.0 136.0 442.0 137.0 C445.0 138.0 449.3 139.5 452.0 141.0 C454.7 142.5 458.0 144.3 458.0 146.0 C458.0 147.7 454.7 149.5 452.0 151.0 C449.3 152.5 445.0 154.0 442.0 155.0 C439.0 156.0 434.3 157.8 434.0 157.0 C433.7 156.2 438.0 151.8 440.0 150.0 C442.0 148.2 446.0 147.5 446.0 146.0 C446.0 144.5 442.0 142.8 440.0 141.0 C438.0 139.2 433.7 135.7 434.0 135.0 Z" fill="#e3a6a4" opacity="0.55"/>
<path d="M470.0 132.0 C472.0 130.2 475.5 129.3 478.0 129.5 C480.5 129.7 483.3 131.2 485.0 133.0 C486.7 134.8 487.5 136.8 488.0 140.0 C488.5 143.2 488.5 148.8 488.0 152.0 C487.5 155.2 486.7 157.2 485.0 159.0 C483.3 160.8 480.5 162.3 478.0 162.5 C475.5 162.7 472.0 161.8 470.0 160.0 C468.0 158.2 466.7 155.3 466.0 152.0 C465.3 148.7 465.3 143.3 466.0 140.0 C466.7 136.7 468.0 133.8 470.0 132.0 Z" fill="#d9bab5"/>
<path d="M470.0 132.0 C472.0 130.2 475.5 129.3 478.0 129.5 C480.5 129.7 483.3 131.2 485.0 133.0 C486.7 134.8 487.5 136.8 488.0 140.0 C488.5 143.2 488.5 148.8 488.0 152.0 C487.5 155.2 486.7 157.2 485.0 159.0 C483.3 160.8 480.5 162.3 478.0 162.5 C475.5 162.7 472.0 161.8 470.0 160.0 C468.0 158.2 466.7 155.3 466.0 152.0 C465.3 148.7 465.3 143.3 466.0 140.0 C466.7 136.7 468.0 133.8 470.0 132.0 Z" fill="none" stroke="#e0a7a4" stroke-width="5" clip-path="url(#bc8)"/>
<path d="M470.0 132.0 C472.0 130.2 475.5 129.3 478.0 129.5 C480.5 129.7 483.3 131.2 485.0 133.0 C486.7 134.8 487.5 136.8 488.0 140.0 C488.5 143.2 488.5 148.8 488.0 152.0 C487.5 155.2 486.7 157.2 485.0 159.0 C483.3 160.8 480.5 162.3 478.0 162.5 C475.5 162.7 472.0 161.8 470.0 160.0 C468.0 158.2 466.7 155.3 466.0 152.0 C465.3 148.7 465.3 143.3 466.0 140.0 C466.7 136.7 468.0 133.8 470.0 132.0 Z" fill="none" stroke="#d98c8c" stroke-width="0.9"/>
<path d="M453.0 140.0 C454.2 138.4 456.2 137.0 458.0 136.5 C459.8 136.0 462.3 136.2 464.0 137.0 C465.7 137.8 467.2 139.5 468.0 141.0 C468.8 142.5 469.0 144.3 469.0 146.0 C469.0 147.7 468.8 149.5 468.0 151.0 C467.2 152.5 465.7 154.2 464.0 155.0 C462.3 155.8 459.8 156.0 458.0 155.5 C456.2 155.0 454.2 153.6 453.0 152.0 C451.8 150.4 451.0 148.0 451.0 146.0 C451.0 144.0 451.8 141.6 453.0 140.0 Z" fill="#d9bab5"/>
<path d="M453.0 140.0 C454.2 138.4 456.2 137.0 458.0 136.5 C459.8 136.0 462.3 136.2 464.0 137.0 C465.7 137.8 467.2 139.5 468.0 141.0 C468.8 142.5 469.0 144.3 469.0 146.0 C469.0 147.7 468.8 149.5 468.0 151.0 C467.2 152.5 465.7 154.2 464.0 155.0 C462.3 155.8 459.8 156.0 458.0 155.5 C456.2 155.0 454.2 153.6 453.0 152.0 C451.8 150.4 451.0 148.0 451.0 146.0 C451.0 144.0 451.8 141.6 453.0 140.0 Z" fill="none" stroke="#e0a7a4" stroke-width="4" clip-path="url(#bc9)"/>
<path d="M453.0 140.0 C454.2 138.4 456.2 137.0 458.0 136.5 C459.8 136.0 462.3 136.2 464.0 137.0 C465.7 137.8 467.2 139.5 468.0 141.0 C468.8 142.5 469.0 144.3 469.0 146.0 C469.0 147.7 468.8 149.5 468.0 151.0 C467.2 152.5 465.7 154.2 464.0 155.0 C462.3 155.8 459.8 156.0 458.0 155.5 C456.2 155.0 454.2 153.6 453.0 152.0 C451.8 150.4 451.0 148.0 451.0 146.0 C451.0 144.0 451.8 141.6 453.0 140.0 Z" fill="none" stroke="#d98c8c" stroke-width="0.9"/>
<path d="M395.5 119.0 C395.7 120.5 395.8 125.0 396.5 128.0 C397.2 131.0 398.2 134.5 400.0 137.0 C401.8 139.5 403.7 141.5 407.0 142.8 C410.3 144.1 414.5 144.5 420.0 145.0 C425.5 145.5 434.7 145.7 440.0 145.6 C445.3 145.5 449.2 145.4 452.0 144.5 C454.8 143.6 455.5 141.7 457.0 140.0 C458.5 138.3 460.3 135.4 461.0 134.5" fill="none" stroke="#f3dcd8" stroke-width="1.6" stroke-linecap="round"/>
<path d="M395.5 173.0 C395.7 171.5 395.8 167.0 396.5 164.0 C397.2 161.0 398.2 157.5 400.0 155.0 C401.8 152.5 403.7 150.5 407.0 149.2 C410.3 147.9 414.5 147.5 420.0 147.0 C425.5 146.5 434.7 146.3 440.0 146.4 C445.3 146.5 449.2 146.6 452.0 147.5 C454.8 148.4 455.5 150.3 457.0 152.0 C458.5 153.7 460.3 156.6 461.0 157.5" fill="none" stroke="#f3dcd8" stroke-width="1.6" stroke-linecap="round"/>
<line x1="376" y1="145.8" x2="452" y2="145.8" stroke="#dd9a99" stroke-width="1"/>
<line x1="488" y1="146" x2="596" y2="146" stroke="#dd9a99" stroke-width="1.2"/>
<line x1="381" y1="137" x2="388" y2="136" stroke="#f6e6e3" stroke-width="1" stroke-linecap="round"/>
<line x1="381" y1="160" x2="388" y2="162" stroke="#f6e6e3" stroke-width="1" stroke-linecap="round"/>
<line x1="436" y1="100" x2="440" y2="99.5" stroke="#f6e6e3" stroke-width="1" stroke-linecap="round"/>
<line x1="452" y1="99" x2="455" y2="99.5" stroke="#f6e6e3" stroke-width="1" stroke-linecap="round"/>
<line x1="504" y1="135" x2="509" y2="136" stroke="#f6e6e3" stroke-width="1" stroke-linecap="round"/>
<line x1="523" y1="139" x2="535" y2="140.5" stroke="#f6e6e3" stroke-width="1" stroke-linecap="round"/>
<line x1="504" y1="160" x2="508" y2="159" stroke="#f6e6e3" stroke-width="1" stroke-linecap="round"/>
<line x1="520" y1="165" x2="528" y2="164" stroke="#f6e6e3" stroke-width="1" stroke-linecap="round"/>
<rect x="582" y="128" width="14.5" height="36" fill="url(#gStem)"/>

</g>

<!-- circle -->
<ellipse cx="487.85" cy="137.65" rx="119.3" ry="130.4" fill="none" stroke="#111" stroke-width="1.6" transform="rotate(-9.5 487.85 137.65)"/>

<!-- ===== BLACK ARROWS ===== -->
<g id="arrows" fill="#222" stroke="#222">
  <polyline points="301,305.5 435.2,193 564,305" fill="none" stroke-width="4.4" stroke-linejoin="miter"/>
  <polygon points="288,315.4 297.4,293.2 309.8,310.4" stroke="none"/>
  <polygon points="576.8,315.4 567.6,293.2 555.2,310.4" stroke="none"/>
</g>

<!-- ===== THERMOMETER ===== -->
<g id="thermo">
<rect x="636.7" y="67.2" width="51.5" height="167.2" rx="3.5" fill="#f1f1f1" stroke="#c2c2c2" stroke-width="1"/>
<rect x="638.5" y="69" width="48" height="163.6" rx="2.5" fill="#f5f5f5"/>
<rect x="659.7" y="79.8" width="5.3" height="135" rx="2.2" fill="#c9cdd1"/>
<rect x="660.2" y="81" width="1.4" height="80" fill="#dde0e3"/>
<rect x="660.0" y="161.8" width="4.7" height="54" fill="#c73f3f"/>
<circle cx="662.2" cy="218.8" r="7.2" fill="#a9a9a9"/>
<circle cx="662.2" cy="218.8" r="6.1" fill="#c73f3f"/>
<line x1="652.9" y1="193.60" x2="657.1" y2="193.60" stroke="#3a3a3a" stroke-width="1.0"/>
<line x1="654.0" y1="192.19" x2="657.1" y2="192.19" stroke="#5e5e5e" stroke-width="0.8"/>
<line x1="654.0" y1="190.79" x2="657.1" y2="190.79" stroke="#5e5e5e" stroke-width="0.8"/>
<line x1="654.0" y1="189.38" x2="657.1" y2="189.38" stroke="#5e5e5e" stroke-width="0.8"/>
<line x1="654.0" y1="187.97" x2="657.1" y2="187.97" stroke="#5e5e5e" stroke-width="0.8"/>
<line x1="654.0" y1="186.57" x2="657.1" y2="186.57" stroke="#5e5e5e" stroke-width="0.8"/>
<line x1="654.0" y1="185.16" x2="657.1" y2="185.16" stroke="#5e5e5e" stroke-width="0.8"/>
<line x1="654.0" y1="183.75" x2="657.1" y2="183.75" stroke="#5e5e5e" stroke-width="0.8"/>
<line x1="654.0" y1="182.35" x2="657.1" y2="182.35" stroke="#5e5e5e" stroke-width="0.8"/>
<line x1="654.0" y1="180.94" x2="657.1" y2="180.94" stroke="#5e5e5e" stroke-width="0.8"/>
<line x1="652.9" y1="179.53" x2="657.1" y2="179.53" stroke="#3a3a3a" stroke-width="1.0"/>
<line x1="654.0" y1="178.13" x2="657.1" y2="178.13" stroke="#5e5e5e" stroke-width="0.8"/>
<line x1="654.0" y1="176.72" x2="657.1" y2="176.72" stroke="#5e5e5e" stroke-width="0.8"/>
<line x1="654.0" y1="175.31" x2="657.1" y2="175.31" stroke="#5e5e5e" stroke-width="0.8"/>
<line x1="654.0" y1="173.91" x2="657.1" y2="173.91" stroke="#5e5e5e" stroke-width="0.8"/>
<line x1="654.0" y1="172.50" x2="657.1" y2="172.50" stroke="#5e5e5e" stroke-width="0.8"/>
<line x1="654.0" y1="171.09" x2="657.1" y2="171.09" stroke="#5e5e5e" stroke-width="0.8"/>
<line x1="654.0" y1="169.69" x2="657.1" y2="169.69" stroke="#5e5e5e" stroke-width="0.8"/>
<line x1="654.0" y1="168.28" x2="657.1" y2="168.28" stroke="#5e5e5e" stroke-width="0.8"/>
<line x1="654.0" y1="166.87" x2="657.1" y2="166.87" stroke="#5e5e5e" stroke-width="0.8"/>
<line x1="652.9" y1="165.47" x2="657.1" y2="165.47" stroke="#3a3a3a" stroke-width="1.0"/>
<line x1="654.0" y1="164.06" x2="657.1" y2="164.06" stroke="#5e5e5e" stroke-width="0.8"/>
<line x1="654.0" y1="162.65" x2="657.1" y2="162.65" stroke="#5e5e5e" stroke-width="0.8"/>
<line x1="654.0" y1="161.25" x2="657.1" y2="161.25" stroke="#5e5e5e" stroke-width="0.8"/>
<line x1="654.0" y1="159.84" x2="657.1" y2="159.84" stroke="#5e5e5e" stroke-width="0.8"/>
<line x1="654.0" y1="158.44" x2="657.1" y2="158.44" stroke="#5e5e5e" stroke-width="0.8"/>
<line x1="654.0" y1="157.03" x2="657.1" y2="157.03" stroke="#5e5e5e" stroke-width="0.8"/>
<line x1="654.0" y1="155.62" x2="657.1" y2="155.62" stroke="#5e5e5e" stroke-width="0.8"/>
<line x1="654.0" y1="154.22" x2="657.1" y2="154.22" stroke="#5e5e5e" stroke-width="0.8"/>
<line x1="654.0" y1="152.81" x2="657.1" y2="152.81" stroke="#5e5e5e" stroke-width="0.8"/>
<line x1="652.9" y1="151.40" x2="657.1" y2="151.40" stroke="#3a3a3a" stroke-width="1.0"/>
<line x1="654.0" y1="150.00" x2="657.1" y2="150.00" stroke="#5e5e5e" stroke-width="0.8"/>
<line x1="654.0" y1="148.59" x2="657.1" y2="148.59" stroke="#5e5e5e" stroke-width="0.8"/>
<line x1="654.0" y1="147.18" x2="657.1" y2="147.18" stroke="#5e5e5e" stroke-width="0.8"/>
<line x1="654.0" y1="145.78" x2="657.1" y2="145.78" stroke="#5e5e5e" stroke-width="0.8"/>
<line x1="654.0" y1="144.37" x2="657.1" y2="144.37" stroke="#5e5e5e" stroke-width="0.8"/>
<line x1="654.0" y1="142.96" x2="657.1" y2="142.96" stroke="#5e5e5e" stroke-width="0.8"/>
<line x1="654.0" y1="141.56" x2="657.1" y2="141.56" stroke="#5e5e5e" stroke-width="0.8"/>
<line x1="654.0" y1="140.15" x2="657.1" y2="140.15" stroke="#5e5e5e" stroke-width="0.8"/>
<line x1="654.0" y1="138.74" x2="657.1" y2="138.74" stroke="#5e5e5e" stroke-width="0.8"/>
<line x1="652.9" y1="137.34" x2="657.1" y2="137.34" stroke="#3a3a3a" stroke-width="1.0"/>
<line x1="654.0" y1="135.93" x2="657.1" y2="135.93" stroke="#5e5e5e" stroke-width="0.8"/>
<line x1="654.0" y1="134.52" x2="657.1" y2="134.52" stroke="#5e5e5e" stroke-width="0.8"/>
<line x1="654.0" y1="133.12" x2="657.1" y2="133.12" stroke="#5e5e5e" stroke-width="0.8"/>
<line x1="654.0" y1="131.71" x2="657.1" y2="131.71" stroke="#5e5e5e" stroke-width="0.8"/>
<line x1="654.0" y1="130.30" x2="657.1" y2="130.30" stroke="#5e5e5e" stroke-width="0.8"/>
<line x1="654.0" y1="128.90" x2="657.1" y2="128.90" stroke="#5e5e5e" stroke-width="0.8"/>
<line x1="654.0" y1="127.49" x2="657.1" y2="127.49" stroke="#5e5e5e" stroke-width="0.8"/>
<line x1="654.0" y1="126.08" x2="657.1" y2="126.08" stroke="#5e5e5e" stroke-width="0.8"/>
<line x1="654.0" y1="124.68" x2="657.1" y2="124.68" stroke="#5e5e5e" stroke-width="0.8"/>
<line x1="652.9" y1="123.27" x2="657.1" y2="123.27" stroke="#3a3a3a" stroke-width="1.0"/>
<line x1="654.0" y1="121.86" x2="657.1" y2="121.86" stroke="#5e5e5e" stroke-width="0.8"/>
<line x1="654.0" y1="120.46" x2="657.1" y2="120.46" stroke="#5e5e5e" stroke-width="0.8"/>
<line x1="654.0" y1="119.05" x2="657.1" y2="119.05" stroke="#5e5e5e" stroke-width="0.8"/>
<line x1="654.0" y1="117.64" x2="657.1" y2="117.64" stroke="#5e5e5e" stroke-width="0.8"/>
<line x1="654.0" y1="116.24" x2="657.1" y2="116.24" stroke="#5e5e5e" stroke-width="0.8"/>
<line x1="654.0" y1="114.83" x2="657.1" y2="114.83" stroke="#5e5e5e" stroke-width="0.8"/>
<line x1="654.0" y1="113.42" x2="657.1" y2="113.42" stroke="#5e5e5e" stroke-width="0.8"/>
<line x1="654.0" y1="112.02" x2="657.1" y2="112.02" stroke="#5e5e5e" stroke-width="0.8"/>
<line x1="654.0" y1="110.61" x2="657.1" y2="110.61" stroke="#5e5e5e" stroke-width="0.8"/>
<line x1="652.9" y1="109.20" x2="657.1" y2="109.20" stroke="#3a3a3a" stroke-width="1.0"/>
<line x1="666.9" y1="197.50" x2="672.6" y2="197.50" stroke="#333" stroke-width="1.1"/>
<line x1="666.9" y1="194.90" x2="670.8" y2="194.90" stroke="#666" stroke-width="0.9"/>
<line x1="666.9" y1="192.30" x2="670.8" y2="192.30" stroke="#666" stroke-width="0.9"/>
<line x1="666.9" y1="189.70" x2="670.8" y2="189.70" stroke="#666" stroke-width="0.9"/>
<line x1="666.9" y1="187.10" x2="670.8" y2="187.10" stroke="#666" stroke-width="0.9"/>
<line x1="666.9" y1="184.50" x2="672.6" y2="184.50" stroke="#333" stroke-width="1.1"/>
<line x1="666.9" y1="181.90" x2="670.8" y2="181.90" stroke="#666" stroke-width="0.9"/>
<line x1="666.9" y1="179.30" x2="670.8" y2="179.30" stroke="#666" stroke-width="0.9"/>
<line x1="666.9" y1="176.70" x2="670.8" y2="176.70" stroke="#666" stroke-width="0.9"/>
<line x1="666.9" y1="174.10" x2="670.8" y2="174.10" stroke="#666" stroke-width="0.9"/>
<line x1="666.9" y1="171.50" x2="672.6" y2="171.50" stroke="#333" stroke-width="1.1"/>
<line x1="666.9" y1="168.90" x2="670.8" y2="168.90" stroke="#666" stroke-width="0.9"/>
<line x1="666.9" y1="166.30" x2="670.8" y2="166.30" stroke="#666" stroke-width="0.9"/>
<line x1="666.9" y1="163.70" x2="670.8" y2="163.70" stroke="#666" stroke-width="0.9"/>
<line x1="666.9" y1="161.10" x2="670.8" y2="161.10" stroke="#666" stroke-width="0.9"/>
<line x1="666.9" y1="158.50" x2="672.6" y2="158.50" stroke="#333" stroke-width="1.1"/>
<line x1="666.9" y1="155.90" x2="670.8" y2="155.90" stroke="#666" stroke-width="0.9"/>
<line x1="666.9" y1="153.30" x2="670.8" y2="153.30" stroke="#666" stroke-width="0.9"/>
<line x1="666.9" y1="150.70" x2="670.8" y2="150.70" stroke="#666" stroke-width="0.9"/>
<line x1="666.9" y1="148.10" x2="670.8" y2="148.10" stroke="#666" stroke-width="0.9"/>
<line x1="666.9" y1="145.50" x2="672.6" y2="145.50" stroke="#333" stroke-width="1.1"/>
<line x1="666.9" y1="142.90" x2="670.8" y2="142.90" stroke="#666" stroke-width="0.9"/>
<line x1="666.9" y1="140.30" x2="670.8" y2="140.30" stroke="#666" stroke-width="0.9"/>
<line x1="666.9" y1="137.70" x2="670.8" y2="137.70" stroke="#666" stroke-width="0.9"/>
<line x1="666.9" y1="135.10" x2="670.8" y2="135.10" stroke="#666" stroke-width="0.9"/>
<line x1="666.9" y1="132.50" x2="672.6" y2="132.50" stroke="#333" stroke-width="1.1"/>
<line x1="666.9" y1="129.90" x2="670.8" y2="129.90" stroke="#b8b8b8" stroke-width="0.9"/>
<line x1="666.9" y1="127.30" x2="670.8" y2="127.30" stroke="#b8b8b8" stroke-width="0.9"/>
<line x1="666.9" y1="124.70" x2="670.8" y2="124.70" stroke="#b8b8b8" stroke-width="0.9"/>
<line x1="666.9" y1="122.10" x2="670.8" y2="122.10" stroke="#b8b8b8" stroke-width="0.9"/>
<line x1="666.9" y1="119.50" x2="670.8" y2="119.50" stroke="#b8b8b8" stroke-width="1.1"/>
<line x1="666.9" y1="116.90" x2="670.8" y2="116.90" stroke="#b8b8b8" stroke-width="0.9"/>
<line x1="666.9" y1="114.30" x2="670.8" y2="114.30" stroke="#b8b8b8" stroke-width="0.9"/>
<line x1="666.9" y1="111.70" x2="670.8" y2="111.70" stroke="#b8b8b8" stroke-width="0.9"/>
<line x1="666.9" y1="109.10" x2="670.8" y2="109.10" stroke="#b8b8b8" stroke-width="0.9"/>
<line x1="666.9" y1="106.50" x2="670.8" y2="106.50" stroke="#b8b8b8" stroke-width="1.1"/>
<g font-size="8.3" font-weight="bold" fill="#333">
<text x="648.65" y="196.6" textLength="3.95" lengthAdjust="spacingAndGlyphs" fill="#333">0</text>
<text x="644.90" y="182.5" textLength="7.70" lengthAdjust="spacingAndGlyphs" fill="#333">20</text>
<text x="644.90" y="168.5" textLength="7.70" lengthAdjust="spacingAndGlyphs" fill="#333">40</text>
<text x="644.90" y="154.4" textLength="7.70" lengthAdjust="spacingAndGlyphs" fill="#333">60</text>
<text x="644.90" y="140.3" textLength="7.70" lengthAdjust="spacingAndGlyphs" fill="#333">80</text>
<text x="641.15" y="126.3" textLength="11.45" lengthAdjust="spacingAndGlyphs" fill="#333">100</text>
<text x="641.15" y="112.2" textLength="11.45" lengthAdjust="spacingAndGlyphs" fill="#333">120</text>
<text x="674.8" y="200.5" textLength="8.10" lengthAdjust="spacingAndGlyphs" fill="#333">20</text>
<text x="674.8" y="187.5" textLength="8.10" lengthAdjust="spacingAndGlyphs" fill="#333">10</text>
<text x="674.8" y="174.5" textLength="4.15" lengthAdjust="spacingAndGlyphs" fill="#333">0</text>
<text x="674.8" y="161.5" textLength="8.10" lengthAdjust="spacingAndGlyphs" fill="#333">10</text>
<text x="674.8" y="148.5" textLength="8.10" lengthAdjust="spacingAndGlyphs" fill="#333">20</text>
<text x="674.8" y="135.5" textLength="8.10" lengthAdjust="spacingAndGlyphs" fill="#333">30</text>
<text x="674.8" y="122.5" textLength="8.10" lengthAdjust="spacingAndGlyphs" fill="#333">40</text>
<text x="674.8" y="109.5" textLength="8.10" lengthAdjust="spacingAndGlyphs" fill="#333">50</text>
</g>
<text x="641.6" y="94" font-size="10.5" font-weight="bold" fill="#222" textLength="9.8" lengthAdjust="spacingAndGlyphs">°F</text>
<text x="671.6" y="94" font-size="10.5" font-weight="bold" fill="#222" textLength="10.8" lengthAdjust="spacingAndGlyphs">°C</text>

</g>

<!-- ===== RED ARROW ===== -->
<g id="redarrow">
  <rect x="48.9" y="358" width="16.4" height="170" fill="url(#gRed)"/>
  <polygon points="56.6,317.6 81.2,360.4 32.5,360.4" fill="#9f0633"/>
  <text id="t-inc" transform="translate(36.5,501) rotate(-90)" font-size="28.6" textLength="133.6" lengthAdjust="spacingAndGlyphs">Increased</text>
</g>

<g id="lefttext" font-size="24">
  <text x="75.71" y="393.75" textLength="76.82" lengthAdjust="spacingAndGlyphs">Protein</text>
  <text x="158.99" y="393.75" textLength="73.53" lengthAdjust="spacingAndGlyphs">folding</text>
  <text x="240.00" y="393.75" textLength="94.00" lengthAdjust="spacingAndGlyphs">enzymes</text>
  <text x="76.00" y="427.5" textLength="119.51" lengthAdjust="spacingAndGlyphs">Antioxidant</text>
  <text x="205.00" y="427.5" textLength="94.00" lengthAdjust="spacingAndGlyphs">enzymes</text>
  <text x="75.73" y="461.25" textLength="171.78" lengthAdjust="spacingAndGlyphs">Neuroprotective</text>
  <text x="75.99" y="495.0" textLength="149.01" lengthAdjust="spacingAndGlyphs">mitochondrial</text>
  <text x="231.98" y="495.0" textLength="90.03" lengthAdjust="spacingAndGlyphs">peptides</text>
</g>

<!-- protein squiggle -->
<g id="squig">
<path d="M322.0 433.6 C322.4 434.9 323.9 438.9 324.4 441.4 C325.0 443.9 325.5 446.1 325.1 448.6 C324.8 451.0 324.0 453.3 322.3 456.0 C320.6 458.7 316.3 463.5 315.1 465.0" fill="none" stroke="#c9223e" stroke-width="3.3" stroke-linecap="round" stroke-linejoin="round"/>
<path d="M304.0 433.1 C304.1 432.4 303.9 429.9 304.4 428.6 C305.0 427.3 306.1 426.0 307.3 425.4 C308.5 424.9 310.3 424.9 311.6 425.4 C312.8 426.0 314.2 427.1 314.7 428.6 C315.3 430.0 315.3 432.3 314.9 434.3 C314.4 436.3 313.0 438.8 312.0 440.7 C311.0 442.7 309.4 444.4 308.7 446.0 C308.0 447.6 307.6 449.1 308.0 450.3 C308.4 451.5 309.9 453.1 311.1 453.1 C312.4 453.1 314.1 452.0 315.4 450.3 C316.8 448.6 318.2 445.5 319.1 442.9 C320.0 440.2 320.3 437.1 320.9 434.3 C321.4 431.4 321.5 428.6 322.3 425.7 C323.0 422.9 324.0 419.5 325.4 417.1 C326.9 414.8 329.0 412.5 331.1 411.4 C333.2 410.4 336.0 410.5 338.0 411.0 C340.0 411.5 342.0 412.5 343.1 414.3 C344.2 416.0 344.8 419.0 344.6 421.4 C344.3 423.8 342.8 426.4 341.7 428.6 C340.6 430.7 339.0 432.3 338.0 434.3 C337.0 436.2 335.9 438.3 335.6 440.3 C335.2 442.3 335.7 444.3 336.0 446.4 C336.3 448.6 337.0 450.9 337.4 453.1 C337.9 455.4 339.0 457.7 338.9 460.0 C338.7 462.3 337.8 465.2 336.6 467.1 C335.4 469.0 333.3 471.0 331.7 471.4 C330.1 471.9 328.0 471.0 326.9 470.0 C325.8 469.0 324.9 467.1 325.1 465.7 C325.4 464.3 326.8 462.6 328.3 461.4 C329.8 460.2 331.4 459.4 334.0 458.6 C336.6 457.7 340.7 457.4 343.7 456.4 C346.8 455.5 350.0 454.6 352.3 452.9 C354.5 451.1 356.4 448.3 357.1 446.0 C357.9 443.7 357.6 440.7 356.6 438.9 C355.6 437.0 353.5 435.9 351.1 435.1 C348.8 434.4 345.2 434.2 342.6 434.3 C340.0 434.3 338.0 435.1 335.4 435.4 C332.9 435.7 328.6 435.9 327.3 436.0" fill="none" stroke="#c9223e" stroke-width="3.3" stroke-linecap="round" stroke-linejoin="round"/>
<path d="M335.4 441.7 C335.5 440.3 336.3 438.7 337.3 438.0 C338.3 437.3 340.3 437.0 341.6 437.4 C342.8 437.9 344.4 439.4 344.9 440.7 C345.3 442.0 345.1 443.9 344.4 445.1 C343.8 446.4 342.2 447.8 340.9 448.0 C339.5 448.2 337.5 447.6 336.6 446.6 C335.7 445.5 335.3 443.1 335.4 441.7 Z" fill="none" stroke="#c9223e" stroke-width="3.0" stroke-linecap="round" stroke-linejoin="round"/>

</g>

<!-- ===== BLUE ARROW ===== -->
<g id="bluearrow">
  <rect x="403.6" y="321" width="17.2" height="175" fill="url(#gBlue)"/>
  <polygon points="387.1,493.9 436.8,493.9 411.8,539" fill="#0b539e"/>
  <text id="t-dec" transform="translate(394.4,483.2) rotate(-90)" font-size="28.6" textLength="143.4" lengthAdjust="spacingAndGlyphs">Decreased</text>
</g>

<g id="righttext" font-size="24">
  <text x="447.48" y="362.5" textLength="93.52" lengthAdjust="spacingAndGlyphs">Dendritic</text>
  <text x="550.00" y="362.5" textLength="56.00" lengthAdjust="spacingAndGlyphs">spine</text>
  <text x="614.00" y="362.5" textLength="75.01" lengthAdjust="spacingAndGlyphs">density</text>
  <text x="447.47" y="396.75" textLength="73.53" lengthAdjust="spacingAndGlyphs">Energy</text>
  <text x="530.49" y="396.75" textLength="101.51" lengthAdjust="spacingAndGlyphs">expensive</text>
  <text x="638.94" y="396.75" textLength="40.11" lengthAdjust="spacingAndGlyphs">and</text>
  <text x="447.48" y="430.75" textLength="158.52" lengthAdjust="spacingAndGlyphs">ROS-producing</text>
  <text x="613.99" y="430.75" textLength="110.02" lengthAdjust="spacingAndGlyphs">processes</text>
  <text x="447.45" y="464.75" textLength="84.09" lengthAdjust="spacingAndGlyphs">NMDAR</text>
  <text x="537.99" y="464.75" textLength="95.53" lengthAdjust="spacingAndGlyphs">signaling</text>
  <text x="640.98" y="464.75" textLength="38.04" lengthAdjust="spacingAndGlyphs">and</text>
  <text x="446.97" y="498.75" textLength="77.58" lengthAdjust="spacingAndGlyphs">CaMKII</text>
  <text x="531.99" y="498.75" textLength="103.02" lengthAdjust="spacingAndGlyphs">activation</text>
</g>

<!-- ===== RIBOSOME ===== -->
<g id="ribo">
<path d="M520.2 532.5 C519.9 529.5 520.8 526.6 522.5 523.8 C524.3 521.1 527.4 518.0 530.7 516.0 C534.0 513.9 538.2 512.5 542.3 511.6 C546.4 510.7 551.9 510.3 555.3 510.7 C558.8 511.2 561.2 512.4 563.2 514.5 C565.2 516.6 566.3 520.1 567.3 523.2 C568.2 526.4 568.9 530.5 569.0 533.4 C569.1 536.3 568.9 539.0 567.8 540.7 C566.8 542.4 564.7 544.0 562.6 543.6 C560.5 543.2 557.8 538.3 555.3 538.3 C552.9 538.3 550.8 543.8 548.1 543.6 C545.4 543.4 542.3 537.1 539.4 537.2 C536.5 537.3 533.2 543.3 530.7 544.1 C528.1 545.0 526.0 544.1 524.3 542.1 C522.5 540.2 520.5 535.6 520.2 532.5 Z" fill="#a5ccad"/>
<path d="M521.4 550.8 C521.9 549.0 523.8 547.5 526.3 546.5 C528.8 545.4 532.8 544.5 536.5 544.4 C540.1 544.3 544.2 545.9 548.1 545.9 C552.0 545.9 556.6 544.4 559.7 544.4 C562.9 544.4 565.3 544.8 567.0 545.9 C568.6 547.0 569.3 549.0 569.6 550.8 C569.8 552.6 569.6 554.9 568.4 556.6 C567.3 558.3 566.0 560.0 562.6 561.0 C559.2 562.0 553.4 562.3 548.1 562.4 C542.8 562.5 534.8 562.4 530.7 561.6 C526.5 560.8 525.0 559.3 523.4 557.5 C521.9 555.7 520.9 552.7 521.4 550.8 Z" fill="#a5ccad"/>
<path d="M505.1 561.0 C505.4 559.5 505.9 554.7 506.8 552.3 C507.8 549.9 509.5 547.1 510.9 546.5 C512.4 545.9 514.2 548.0 515.6 548.8 C516.9 549.6 518.1 551.5 519.0 551.1 C520.0 550.7 520.6 548.2 521.4 546.5 C522.1 544.7 522.4 541.5 523.4 540.7 C524.4 539.8 525.9 540.5 527.2 541.2 C528.5 542.0 529.9 545.2 531.2 545.0 C532.6 544.8 534.0 541.5 535.3 540.1 C536.7 538.6 538.0 536.5 539.4 536.3 C540.7 536.2 542.0 537.9 543.4 539.2 C544.9 540.5 546.6 544.0 548.1 544.1 C549.5 544.3 550.7 541.4 552.2 540.1 C553.6 538.8 555.4 536.3 556.8 536.3 C558.2 536.3 559.3 538.8 560.3 540.1 C561.3 541.4 561.4 543.6 562.6 544.1 C563.8 544.7 565.7 543.6 567.3 543.6 C568.8 543.6 570.7 543.2 571.9 544.1 C573.1 545.1 573.4 547.7 574.2 549.4 C575.1 551.0 575.9 553.4 577.1 554.0 C578.4 554.6 580.3 553.2 581.8 552.9 C583.2 552.6 584.9 551.7 585.8 552.3 C586.8 552.9 587.1 555.2 587.6 556.6 C588.1 558.1 588.6 560.3 588.8 561.0" fill="none" stroke="#1c2878" stroke-width="1.5" stroke-linecap="round"/>
<path d="M641.0 560.4 C641.5 560.0 642.7 558.5 643.9 558.1 C645.1 557.7 646.8 557.8 648.3 558.1 C649.7 558.4 651.5 560.3 652.6 559.8 C653.8 559.3 654.4 556.7 655.0 555.2 C655.6 553.7 655.3 551.5 656.1 550.8 C657.0 550.2 658.8 551.1 660.2 551.1 C661.6 551.1 663.2 551.7 664.3 550.8 C665.3 550.0 665.8 547.6 666.6 545.9 C667.4 544.2 667.8 541.8 668.9 540.7 C670.0 539.5 671.6 538.5 673.0 539.2 C674.4 539.9 676.6 544.1 677.3 545.0" fill="none" stroke="#1c2878" stroke-width="1.5" stroke-linecap="round"/>
<circle cx="599" cy="559.6" r="0.9" fill="#1c2878"/>

</g>
</svg>
</body>
</html>
